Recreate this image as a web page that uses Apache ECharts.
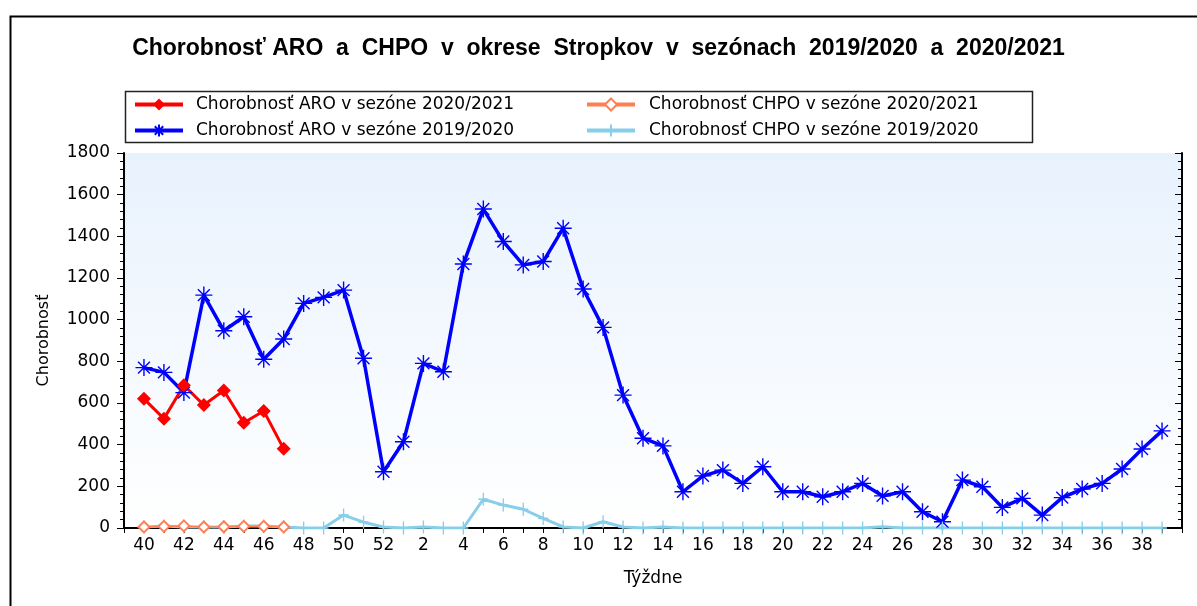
<!DOCTYPE html>
<html>
<head>
<meta charset="utf-8">
<script src="https://cdn.jsdelivr.net/npm/echarts@6/dist/echarts.min.js"></script>
<style>
  html, body { margin: 0; padding: 0; background: #fff; }
  #chart { width: 1197px; height: 606px; }
</style>
</head>
<body>
<div id="chart"></div>
<script>
// weeks of the season: 40..52, then 1..39
const weeks = [40, 41, 42, 43, 44, 45, 46, 47, 48, 49, 50, 51, 52,
  1, 2, 3, 4, 5, 6, 7, 8, 9, 10, 11, 12, 13, 14, 15, 16, 17, 18, 19, 20,
  21, 22, 23, 24, 25, 26, 27, 28, 29, 30, 31, 32, 33, 34, 35, 36, 37, 38, 39];

const aro2021 = [620, 525, 685, 590, 660, 505, 562, 380];
const chpo2021 = [5, 8, 10, 5, 6, 8, 8, 5];
const aro1920 = [770, 747, 650, 1118, 947, 1014, 810, 907, 1078, 1107, 1142, 815, 270,
  414, 790, 750, 1267, 1531, 1375, 1263, 1279, 1439, 1147, 963, 638, 431, 394, 174,
  250, 278, 214, 294, 174, 174, 150, 174, 214, 154, 174, 78, 30, 230, 198, 99, 142,
  62, 146, 187, 214, 283, 379, 466];
const chpo1920 = [5, 10, 5, 5, 5, 10, 10, 5, 0, 0, 62, 28, 5,
  0, 5, 0, 0, 138, 110, 90, 46, 5, 0, 30, 5, 0, 5, 0,
  0, 0, 0, 0, 0, 0, 0, 0, 0, 6, 0, 0, 0, 0, 0, 0, 0,
  0, 0, 0, 0, 0, 0, 0];

const names = [
  'Chorobnosť ARO v sezóne 2020/2021',
  'Chorobnosť ARO v sezóne 2019/2020',
  'Chorobnosť CHPO v sezóne 2020/2021',
  'Chorobnosť CHPO v sezóne 2019/2020'
];

// one empty slot each side so the line starts a full step in from the axis
const cats = [''].concat(weeks.map(String), ['']);
const pad = (arr) => [null].concat(arr, new Array(weeks.length - arr.length).fill(null), [null]);

const font = 'DejaVu Sans';
const asterisk = 'path://M0,-10L0,10M-10,0L10,0M-7,-7L7,7M-7,7L7,-7';
const plus = 'path://M0,-10L0,10M-10,0L10,0';

const chart = echarts.init(document.getElementById('chart'));

const option = {
  animation: false,
  backgroundColor: '#fff',
  title: {
    text: 'Chorobnosť ARO  a  CHPO  v  okrese  Stropkov  v  sezónach  2019/2020  a  2020/2021',
    left: 'center',
    top: 32,
    textStyle: { fontFamily: 'Liberation Sans', fontSize: 23, fontWeight: 'bold', color: '#000' }
  },
  graphic: [
    {
      type: 'rect', left: 8, top: 14, z: 100,
      shape: { width: 1200, height: 600 },
      style: { fill: 'none', stroke: '#000', lineWidth: 2 }
    },
    {
      type: 'rect', left: 123, top: 89, z: 100,
      shape: { width: 907, height: 51 },
      style: { fill: 'none', stroke: '#222', lineWidth: 1.5 }
    }
  ],
  legend: [
    {
      orient: 'vertical', left: 128, top: 91,
      itemWidth: 48, itemHeight: 15, itemGap: 9,
      data: [names[0], names[1]],
      lineStyle: { width: 4 },
      textStyle: { fontFamily: font, fontSize: 17, color: '#000', padding: [0, 0, 0, 8] }
    },
    {
      orient: 'vertical', left: 580, top: 91,
      itemWidth: 48, itemHeight: 15, itemGap: 9,
      data: [names[2], names[3]],
      lineStyle: { width: 4 },
      textStyle: { fontFamily: font, fontSize: 17, color: '#000', padding: [0, 0, 0, 9] }
    }
  ],
  grid: {
    left: 124, right: 15, top: 153, bottom: 78,
    show: true,
    borderWidth: 0,
    backgroundColor: new echarts.graphic.LinearGradient(0, 0, 0, 1, [
      { offset: 0, color: '#e8f2fd' },
      { offset: 1, color: '#ffffff' }
    ])
  },
  xAxis: [
    {
      type: 'category', data: cats, boundaryGap: false,
      name: 'Týždne', nameLocation: 'middle', nameGap: 42,
      nameTextStyle: { fontFamily: font, fontSize: 17, color: '#000' },
      axisLine: { lineStyle: { color: '#000', width: 2 } },
      axisTick: { interval: 0, length: 5, lineStyle: { color: '#000' } },
      axisLabel: {
        interval: (i) => i % 2 === 1,
        fontFamily: font, fontSize: 17, color: '#000', margin: 9
      },
      splitLine: { show: false }
    },
    {
      type: 'category', data: cats, boundaryGap: false, position: 'top',
      axisLine: { lineStyle: { color: '#000', width: 2 } },
      axisTick: { interval: 0, inside: true, length: 5, lineStyle: { color: '#000' } },
      axisLabel: { show: false },
      splitLine: { show: false }
    }
  ],
  yAxis: [
    {
      type: 'value', min: 0, max: 1800, interval: 200,
      name: 'Chorobnosť', nameLocation: 'middle', nameGap: 72, nameRotate: 90,
      nameTextStyle: { fontFamily: font, fontSize: 16, color: '#000' },
      axisLine: { show: true, lineStyle: { color: '#000', width: 2 } },
      axisTick: { show: true, length: 7, lineStyle: { color: '#000' } },
      minorTick: { show: true, splitNumber: 5, length: 4, lineStyle: { color: '#000' } },
      axisLabel: {
        fontFamily: font, fontSize: 17, color: '#000', margin: 14,
        formatter: (v) => String(v)
      },
      splitLine: { show: false }
    },
    {
      type: 'value', min: 0, max: 1800, interval: 200, position: 'right',
      axisLine: { show: true, lineStyle: { color: '#000', width: 2 } },
      axisTick: { show: true, inside: true, length: 7, lineStyle: { color: '#000' } },
      minorTick: { show: true, splitNumber: 5, length: 4, lineStyle: { color: '#000' } },
      axisLabel: { show: false },
      splitLine: { show: false }
    }
  ],
  series: [
    {
      name: names[1], type: 'line', data: pad(aro1920),
      color: '#0000ff', showAllSymbol: true,
      symbol: asterisk, symbolSize: 17,
      itemStyle: { color: '#0000ff', borderColor: '#0000ff', borderWidth: 1.4 },
      lineStyle: { color: '#0000ff', width: 3.5 }
    },
    {
      name: names[3], type: 'line', data: pad(chpo1920),
      color: '#87ceeb', showAllSymbol: true,
      symbol: plus, symbolSize: [10, 13],
      itemStyle: { color: '#87ceeb', borderColor: '#87ceeb', borderWidth: 1.5 },
      lineStyle: { color: '#87ceeb', width: 3 }
    },
    {
      name: names[2], type: 'line', data: pad(chpo2021),
      color: '#ff7f50', showAllSymbol: true,
      symbol: 'emptyDiamond', symbolSize: 11,
      itemStyle: { color: '#ff7f50', borderWidth: 1.5 },
      lineStyle: { color: '#ff7f50', width: 1.5 }
    },
    {
      name: names[0], type: 'line', data: pad(aro2021),
      color: '#ff0000', showAllSymbol: true,
      symbol: 'diamond', symbolSize: 14,
      itemStyle: { color: '#ff0000' },
      lineStyle: { color: '#ff0000', width: 3 }
    }
  ]
};

chart.setOption(option);
</script>
</body>
</html>
